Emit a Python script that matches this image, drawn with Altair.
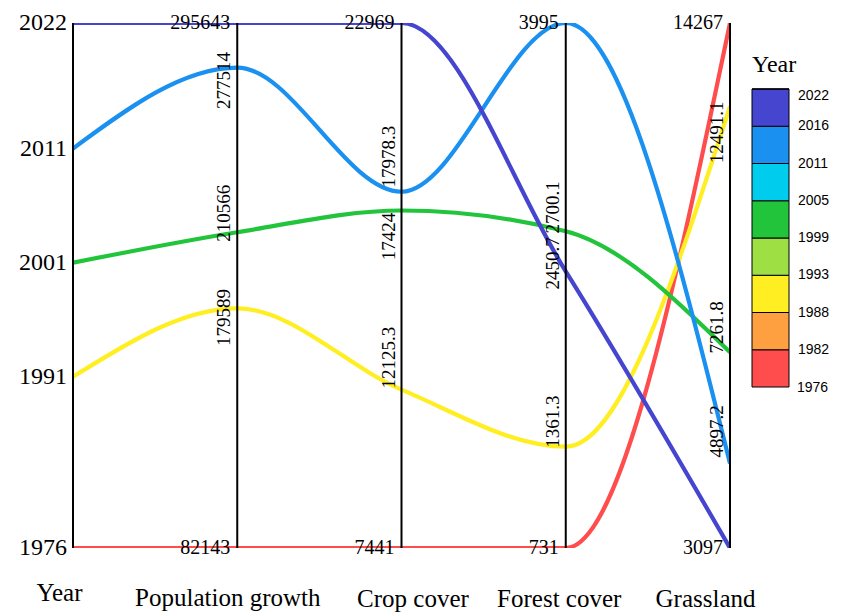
import altair as alt
import pandas as pd

# ---------------- data ----------------
dimensions = ["Year", "Population growth", "Crop cover", "Forest cover", "Grassland"]
years = [1976, 1991, 2001, 2011, 2022]
population = [82143, 179589, 210566, 277514, 295643]
crop = [7441, 12125.3, 17424, 17978.3, 22969]
forest = [731, 1361.3, 2700.1, 3995, 2450.7]
grass = [14267, 12491.1, 7261.8, 4897.2, 3097]

legend_domain = [1976, 2022]
band_colors = ["#ff4d4d", "#ffa040", "#ffee22", "#9ee044",
               "#22c43c", "#00ccee", "#1a90f0", "#4545d0"]
n_bands = len(band_colors)
# boundaries of the colour bands (labelled on the legend)
legend_values = [legend_domain[0] + k * (legend_domain[1] - legend_domain[0]) / n_bands
                 for k in range(n_bands + 1)]

# style: vertical nudge (px, + = down) of the rotated value labels
label_nudge = [
    [0, 0, 0, 0, 0],
    [0, 9, -19, 13, 0],
    [0, -32, 26, -35, 0],
    [0, -25, -24, 0, -8],
    [0, 26, -25, -32, 0],
]
# style: horizontal offset and padding (px) of the dimension titles
title_offset = [-14, -10, 11, -7, -25]
title_padding = [52, 57, 58, 58, 58]

W, H = 657, 525
SERIF = "Liberation Serif"
SANS = "Liberation Sans"

series = [years, population, crop, forest, grass]
rows = []
for j, vals in enumerate(series):
    lo, hi = min(vals), max(vals)
    for i, v in enumerate(vals):
        rows.append(dict(
            dim=dimensions[j], pos=j, value=v,
            norm=(v - lo) / (hi - lo), Year=years[i],
            label=f"{v:g}", extreme=bool(v == lo or v == hi),
            nudge=label_nudge[j][i],
        ))
df = pd.DataFrame(rows)
axes_df = pd.DataFrame({"pos": list(range(len(dimensions))),
                        "lo": [0.0] * len(dimensions),
                        "hi": [1.0] * len(dimensions)})


def js_list(xs):
    return "[" + ",".join(repr(x) for x in xs) + "]"


x_axis = alt.Axis(values=list(range(len(dimensions))),
                  labelExpr=f"{js_list(dimensions)}[datum.value]",
                  domain=False, ticks=False, grid=False, title=None,
                  labelFont=SERIF, labelFontSize=25, labelColor="black",
                  labelBaseline="alphabetic",
                  labelPadding=alt.ExprRef(expr=f"{js_list(title_padding)}[datum.value]"),
                  labelOffset=alt.ExprRef(expr=f"{js_list(title_offset)}[datum.value]"),
                  labelLimit=0, labelFlush=False, labelOverlap=False,
                  labelBound=False)
xs = alt.Scale(domain=[0, len(dimensions) - 1], nice=False, zero=False)
ys = alt.Scale(domain=[0, 1], nice=False, zero=False)

X = alt.X("pos:Q", scale=xs, axis=x_axis)

lines = alt.Chart(df).mark_line(
    interpolate="monotone", strokeWidth=4.2, clip=True
).encode(
    x=X,
    y=alt.Y("norm:Q", scale=ys, axis=None),
    color=alt.Color(
        "Year:Q",
        scale=alt.Scale(type="quantize", domain=legend_domain, range=band_colors),
        legend=alt.Legend(
            type="gradient", orient="none", legendX=679, legendY=30,
            direction="vertical", title="Year", values=legend_values,
            titleFont=SERIF, titleFontSize=24, titleFontWeight="normal",
            titleColor="black", titlePadding=12,
            labelFont=SANS, labelFontSize=14, labelColor="black",
            labelOffset=9, format="d", labelOverlap=False,
            gradientLength=298, gradientThickness=37,
            gradientStrokeColor="black", gradientStrokeWidth=1,
        ),
    ),
    detail="Year:N",
    order="pos:Q",
)

# the discrete legend omits the label of its lowest boundary: add it
low_label = alt.Chart(pd.DataFrame({"t": [f"{legend_values[0]:.0f}"]})).mark_text(
    align="left", baseline="middle", font=SANS, fontSize=14, color="black"
).encode(x=alt.value(W + 67), y=alt.value(H - 160), text="t:N")

rules = alt.Chart(axes_df).mark_rule(color="black", strokeWidth=2).encode(
    x=X,
    y=alt.Y("lo:Q", scale=ys, axis=None),
    y2="hi:Q",
)

year_labels = alt.Chart(df).transform_filter(
    alt.datum.pos == 0
).mark_text(align="right", baseline="middle", dx=-6,
            font=SERIF, fontSize=24, color="black").encode(
    x=X, y=alt.Y("norm:Q", scale=ys, axis=None), text="label:N")

end_labels = alt.Chart(df).transform_filter(
    (alt.datum.pos > 0) & alt.datum.extreme
).mark_text(align="right", baseline="middle", dx=-7,
            font=SERIF, fontSize=20, color="black").encode(
    x=X, y=alt.Y("norm:Q", scale=ys, axis=None), text="label:N")

mid_labels = alt.Chart(df).transform_filter(
    (alt.datum.pos > 0) & (~alt.datum.extreme)
).transform_calculate(
    ly=f"datum.norm - datum.nudge / {H}"
).mark_text(angle=270, align="center", baseline="bottom", dy=-3,
            font=SERIF, fontSize=19, color="black").encode(
    x=X, y=alt.Y("ly:Q", scale=ys, axis=None), text="label:N")

chart = alt.layer(lines, rules, year_labels, end_labels, mid_labels, low_label).properties(
    width=W, height=H,
    autosize=alt.AutoSizeParams(type="none"),
    padding={"left": 65, "top": 15, "right": 103, "bottom": 64},
).configure_view(stroke=None)

chart.save("out.html", embed_options={"renderer": "svg", "actions": False})
